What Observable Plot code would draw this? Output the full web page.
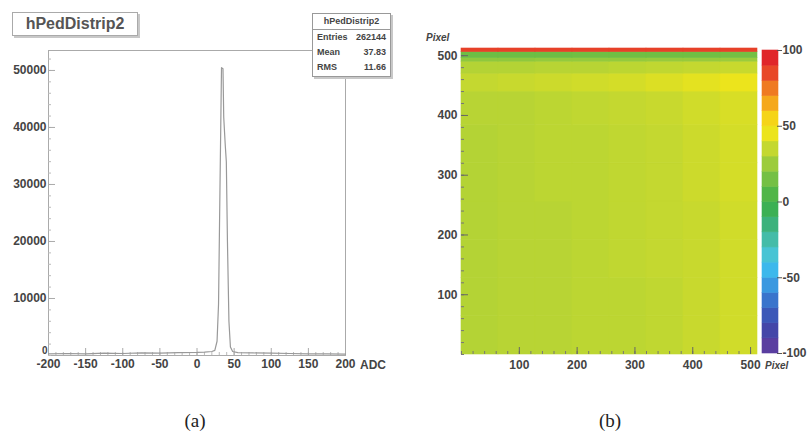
<!DOCTYPE html>
<html><head><meta charset="utf-8">
<script src="https://cdn.jsdelivr.net/npm/d3@7"></script>
<script src="https://cdn.jsdelivr.net/npm/@observablehq/plot@0.6"></script>
<style>
body{margin:0;background:#fff;}
#root{position:relative;width:809px;height:435px;overflow:hidden;font-family:"Liberation Sans",Arial,sans-serif;}
.titlebox{border:1px solid #aaa;box-shadow:2px 2px 0 #c8c8c8;background:#fff;color:#555;font-weight:bold;font-size:16px;text-align:center;line-height:22px;}
.stats{border:1px solid #999;box-shadow:2px 2px 0 #c8c8c8;background:#fff;color:#444;font-weight:bold;font-size:9px;}
.stats .t{text-align:center;height:15px;line-height:15px;border-bottom:1px solid #999;}
.stats .r{display:flex;justify-content:space-between;padding:0 4px;height:15px;line-height:15px;}
.cap{font-family:"Liberation Serif","DejaVu Serif",serif;font-size:19px;color:#222;width:60px;text-align:center;}
.lbl{font-weight:bold;color:#444;font-size:12px;}
.pix{font-weight:bold;font-style:italic;color:#444;font-size:10px;}
</style></head><body><div id="root"></div>
<script>
// ---------- Panel (a): hPedDistrip2 histogram ----------
const histADC    = [-200,-175,-150,-125,-100,-75,-50,-25,0,10,20,24,27,29,31,33,35,36,38,39.5,41,43,45,48,55,75,100,125,150,175,200];
const histCounts = [300,350,300,400,350,450,400,500,550,600,700,900,2500,9000,30000,50500,50300,41800,37000,34000,20000,6000,1500,700,500,450,400,350,300,300,250];
const xTicksA = [-200,-150,-100,-50,0,50,100,150,200];
const yTicksA = [10000,20000,30000,40000,50000];
const yZeroA = [0];
const histTitle = "hPedDistrip2";
const statsLabels = ["Entries","Mean","RMS"];
const statsValues = ["262144","37.83","11.66"];
const xTitleA = "ADC";

// ---------- Panel (b): pixel map ----------
const colEdges = [0,64,128,192,256,320,384,448,512];
const rowEdges = [0,64,128,192,256,320,384,440,470,490,496,506,512];
const heatValues = [
  [31,32,32,33,33,34,36,38],
  [31,32,32,33,33,34,36,38],
  [31,32,32,33,34,35,36,38],
  [31,32,32,33,34,35,36,38],
  [31,32,33,33,34,35,37,39],
  [31,32,33,33,34,35,37,39],
  [32,32,33,34,35,36,38,40],
  [35,36,37,38,39,41,43,45],
  [31,31,32,32,33,34,35,36],
  [22,22,23,23,23,24,24,25],
  [13,13,13,14,14,14,14,15],
  [87,87,87,87,87,87,87,87]
];
const paletteLo = [-100,-90,-80,-70,-60,-50,-40,-30,-20,-10,0,10,20,30,40,50,60,70,80,90];
const paletteColors = ["#5a3ea0","#4446a8","#3c58b8","#3a74cc","#3a98e0","#3cb8ec","#48c4d4","#44bca8","#3cb27c","#3cb054",
                       "#50b648","#74c044","#9ccc3c","#c4d830","#ece41c","#f5d418","#f5a81c","#ef7a22","#e84828","#e0262a"];
const xTicksB = [100,200,300,400,500];
const yTicksB = [100,200,300,400,500];
const cbTicks = [-100,-50,0,50,100];
const axisTitleB = "Pixel";
const captions = ["(a)","(b)"];

const root = document.getElementById("root");
const font = {fontFamily:"Liberation Sans, Arial, sans-serif", fontSize:"12px", fontWeight:"bold", color:"#444", background:"transparent", overflow:"visible"};
function place(el, left, top){ el.style.position="absolute"; el.style.left=left+"px"; el.style.top=top+"px"; root.appendChild(el); return el; }
function div(cls, text){ const d=document.createElement("div"); d.className=cls; d.textContent=text; return d; }

// Panel (a)
const histData = histADC.map((x,i)=>({x, y: histCounts[i]}));
const plotA = Plot.plot({
  width: 400, height: 380, marginLeft: 48, marginRight: 55, marginTop: 50, marginBottom: 25,
  style: font,
  x: {domain: [-200,200]}, y: {domain: [0,53500]},
  marks: [
    Plot.frame({stroke:"#aaa"}),
    Plot.axisY(d3.range(0,53001,2000), {tickSize:-3, tickFormat:()=>"", stroke:"#bbb", label:null}),
    Plot.axisY(yTicksA, {tickSize:-7, tickFormat:()=>"", stroke:"#aaa", label:null}),
    Plot.axisY(yTicksA, {tickSize:0, tickPadding:2, tickFormat:d=>String(d), label:null, fill:"#444"}),
    Plot.axisY(yZeroA, {tickSize:0, tickPadding:1, tickFormat:d=>String(d), label:null, fill:"#444", fontSize:10, dy:-5}),
    Plot.axisX(d3.range(-200,201,10), {tickSize:-3, tickFormat:()=>"", stroke:"#bbb", label:null}),
    Plot.axisX(xTicksA, {tickSize:-7, tickFormat:()=>"", stroke:"#aaa", label:null}),
    Plot.axisX(xTicksA, {tickSize:0, tickPadding:4, tickFormat:d=>String(d), label:null, fill:"#444"}),
    Plot.line(histData, {x:"x", y:"y", stroke:"#999", strokeWidth:1.2})
  ]
});
place(plotA, 0, 0);

const tb = div("titlebox", histTitle); tb.style.width="124px"; tb.style.height="22px"; place(tb, 12, 12);

const st = document.createElement("div"); st.className="stats"; st.style.width="77px"; st.style.height="62px";
st.appendChild(div("t", histTitle));
statsLabels.forEach((l,i)=>{ const r=document.createElement("div"); r.className="r";
  r.innerHTML = `<span>${l}</span><span>${statsValues[i]}</span>`; st.appendChild(r); });
place(st, 312, 13);

place(div("lbl", xTitleA), 360, 358);

// Panel (b)
const cells = [];
heatValues.forEach((row, ri)=> row.forEach((v, ci)=> cells.push({x1: colEdges[ci], x2: colEdges[ci+1], y1: rowEdges[ri], y2: rowEdges[ri+1], v})));
const palCenters = paletteLo.map(d=>d+5);
const colorOpts = {type:"linear", domain: palCenters, range: paletteColors, clamp:true};

const plotB = Plot.plot({
  width: 357, height: 380, marginLeft: 61, marginRight: 0, marginTop: 48, marginBottom: 26,
  style: font,
  x: {domain:[0,512]}, y: {domain:[0,512]},
  color: colorOpts,
  marks: [
    Plot.rect(cells, {x1:"x1", x2:"x2", y1:"y1", y2:"y2", fill:"v", stroke:"v", strokeWidth:0.6}),
    Plot.axisY(d3.range(0,513,20), {tickSize:-3, tickFormat:()=>"", stroke:"#777", label:null}),
    Plot.axisY(yTicksB, {tickSize:-7, tickFormat:()=>"", stroke:"#666", label:null}),
    Plot.axisY(yTicksB, {tickSize:0, tickPadding:4, tickFormat:d=>String(d), label:null, fill:"#444"}),
    Plot.axisX(d3.range(0,513,20), {tickSize:-3, tickFormat:()=>"", stroke:"#777", label:null}),
    Plot.axisX(xTicksB, {tickSize:-7, tickFormat:()=>"", stroke:"#666", label:null}),
    Plot.axisX(xTicksB, {tickSize:0, tickPadding:6, tickFormat:d=>String(d), label:null, fill:"#444"})
  ]
});
place(plotB, 400, 0);

// Colour bar
const bands = paletteLo.map(lo=>({lo, hi: lo+10, mid: lo+5}));
const plotC = Plot.plot({
  width: 69, height: 380, marginLeft: 22, marginRight: 31, marginTop: 50, marginBottom: 27,
  style: font,
  x: {domain:[0,1], axis:null}, y: {domain:[-100,100]},
  color: colorOpts,
  marks: [
    Plot.rect(bands, {x1:0, x2:1, y1:"lo", y2:"hi", fill:"mid", stroke:"mid", strokeWidth:0.6}),
    Plot.axisY(cbTicks, {anchor:"right", tickSize:5, tickPadding:1, tickFormat:d=>String(d), label:null, stroke:"#555", fill:"#444", dx:-2})
  ]
});
place(plotC, 740, 0);

place(div("pix", axisTitleB), 426, 32);
place(div("pix", axisTitleB), 765, 360);

const capA = div("cap", captions[0]); place(capA, 165, 410);
const capB = div("cap", captions[1]); place(capB, 580, 410);
</script>
</body></html>
